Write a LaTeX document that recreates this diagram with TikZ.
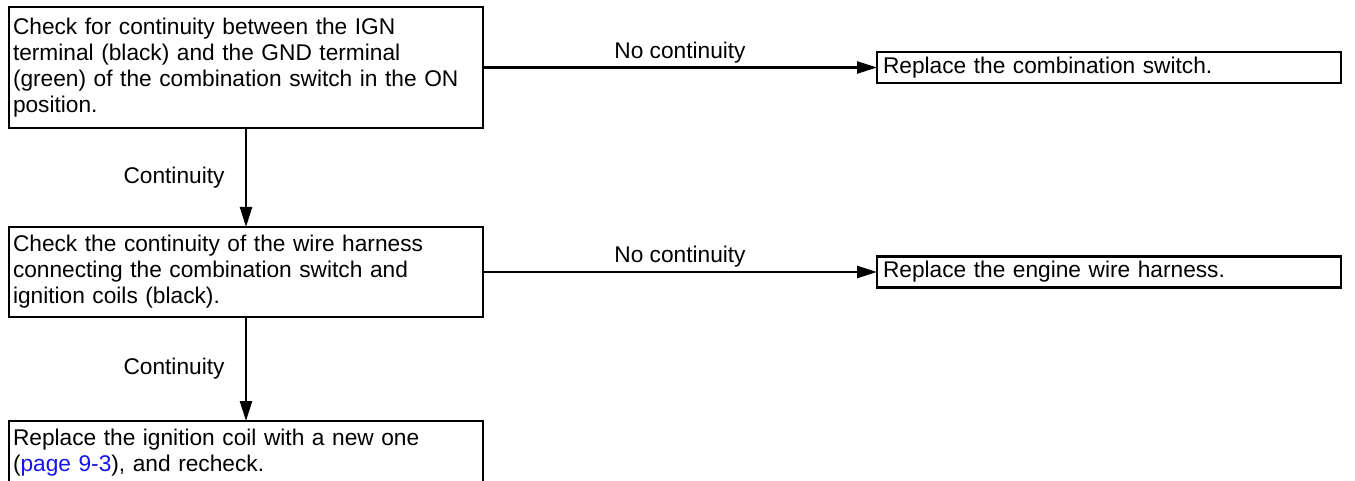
\documentclass[tikz,border=0pt]{standalone}
\usepackage{fontspec}
\setmainfont{Liberation Sans}
\usetikzlibrary{positioning,arrows.meta}
\definecolor{linkblue}{RGB}{20,20,240}
\tikzstyle{block} = [rectangle, draw, line width=2.5pt, text width=466pt, inner xsep=4pt, align=left, outer sep=0pt]
\tikzstyle{fix} = [rectangle, draw, line width=2.5pt, text width=452pt, inner xsep=6pt, minimum height=31pt, align=left, outer sep=0pt]
\tikzstyle{line} = [draw, line width=2.4pt, -{Triangle[length=20pt,width=12pt]}]

\begin{document}
\begin{tikzpicture}[x=1pt, y=1pt, font=\fontsize{22.7}{26}\selectfont]
  \useasboundingbox (0,0) rectangle (1355,-481);
  % Place nodes
  \node [block, minimum height=121pt, anchor=north west] (ign) at (9,-7)
    {Check for continuity between the IGN\\terminal (black) and the GND terminal\\(green) of the combination switch in the ON\\position.};
  \node [block, minimum height=90pt, below=99pt of ign] (harness)
    {Check the continuity of the wire harness\\connecting the combination switch and\\ignition coils (black).};
  \node [block, minimum height=64pt, below=104pt of harness] (coil)
    {Replace the ignition coil with a new one\\(\textcolor{linkblue}{page 9-3}), and recheck.};
  \node [fix, right=394pt of ign] (switch) {Replace the combination switch.};
  \node [fix, right=394pt of harness] (wire) {Replace the engine wire harness.};
  % Draw edges
  \path [line] (ign) -- node [above] {No continuity} (switch);
  \path [line] (ign) -- node [left=17pt] {Continuity} (harness);
  \path [line] (harness) -- node [above] {No continuity} (wire);
  \path [line] (harness) -- node [left=17pt] {Continuity} (coil);
\end{tikzpicture}
\end{document}
